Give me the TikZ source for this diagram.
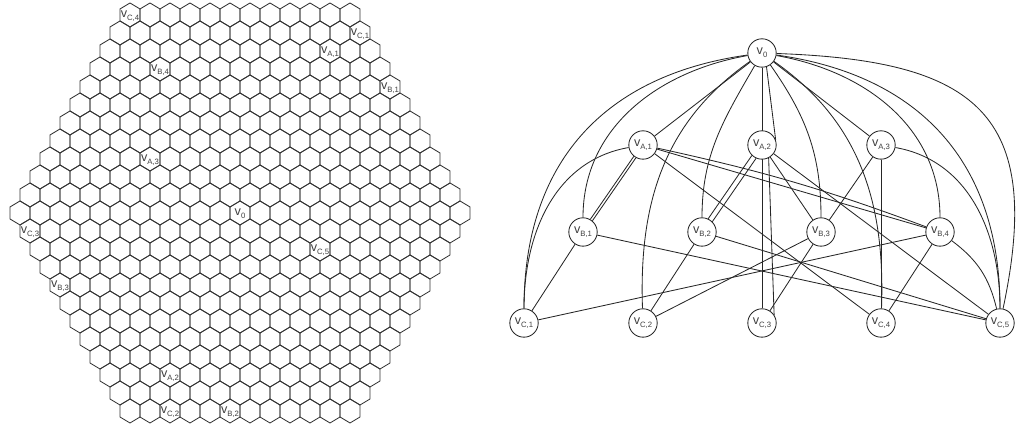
\documentclass[tikz,border=0pt]{standalone}
\usepackage{fontspec}
\setmainfont{Liberation Sans}
\usetikzlibrary{backgrounds}
\tikzset{
	vtx/.style={draw=black!85, circle, fill=white, line width=0.6pt,
		minimum size=7.1mm, inner sep=0pt, text=black!75,
		font=\fontsize{9}{10}\selectfont},
	lnk/.style={draw=black!85, line width=0.6pt},
	hexln/.style={draw=black!80, line width=0.6pt, line join=round},
	hlab/.style={inner sep=0pt, text=black!75, font=\fontsize{9}{10}\selectfont},
}
\newcommand{\vlab}[1]{v\raisebox{-0.5ex}{\fontsize{5.5}{6}\selectfont #1}}

\begin{document}
\begin{tikzpicture}[x=0.25mm, y=0.25mm]
	\useasboundingbox (0,0) rectangle (1022,426);
	% hexagonal cell grid
	\foreach \r in {0,...,22}{
		\pgfmathtruncatemacro{\m}{min(\r,22-\r)}
		\pgfmathtruncatemacro{\n}{11+\m}
		\foreach \k in {0,...,\n}
			\draw[hexln] ({130-10*\m+20*\k},{411-18*\r}) +(0,12) -- +(10,6) -- +(10,-6) -- +(0,-12) -- +(-10,-6) -- +(-10,6) -- cycle;
	}
	\node[hlab] (hC4) at (130,410) {\vlab{C,4}};
	\node[hlab] (hC1) at (360,392) {\vlab{C,1}};
	\node[hlab] (hA1) at (330,374) {\vlab{A,1}};
	\node[hlab] (hB4) at (160,356) {\vlab{B,4}};
	\node[hlab] (hB1) at (390,338) {\vlab{B,1}};
	\node[hlab] (hA3) at (150,266) {\vlab{A,3}};
	\node[hlab] (h0) at (240,212) {\vlab{0}};
	\node[hlab] (hC3) at (30,194) {\vlab{C,3}};
	\node[hlab] (hC5) at (320,176) {\vlab{C,5}};
	\node[hlab] (hB3) at (60,140) {\vlab{B,3}};
	\node[hlab] (hA2) at (170,50) {\vlab{A,2}};
	\node[hlab] (hC2) at (170,14) {\vlab{C,2}};
	\node[hlab] (hB2) at (230,14) {\vlab{B,2}};
	% graph
	\node[vtx] (v0) at (762,373) {\vlab{0}};
	\node[vtx] (vA1) at (643,281) {\vlab{A,1}};
	\node[vtx] (vA2) at (762,281) {\vlab{A,2}};
	\node[vtx] (vA3) at (881,281) {\vlab{A,3}};
	\node[vtx] (vB1) at (583,194) {\vlab{B,1}};
	\node[vtx] (vB2) at (702,194) {\vlab{B,2}};
	\node[vtx] (vB3) at (821,194) {\vlab{B,3}};
	\node[vtx] (vB4) at (940,194) {\vlab{B,4}};
	\node[vtx] (vC1) at (524,103) {\vlab{C,1}};
	\node[vtx] (vC2) at (643,103) {\vlab{C,2}};
	\node[vtx] (vC3) at (762,103) {\vlab{C,3}};
	\node[vtx] (vC4) at (881,103) {\vlab{C,4}};
	\node[vtx] (vC5) at (1000,103) {\vlab{C,5}};
	\begin{scope}[on background layer]
		% arcs from v0
		\draw[lnk] (v0) to[out=188, in=90, looseness=1.1] (vC1);
		\draw[lnk] (v0) to[out=190, in=90] (vB1);
		\draw[lnk] (v0) to[out=215, in=92] (vC2);
		\draw[lnk] (v0) to[out=240, in=90] (vB2);
		\draw[lnk] (v0) to[out=-55, in=90] (vB3);
		\draw[lnk] (v0) to[out=-35, in=88] (vC4);
		\draw[lnk] (v0) to[out=-10, in=90] (vB4);
		\draw[lnk] (v0) to[out=-8, in=90, looseness=1.1] (vC5);
		\draw[lnk] (v0) to[out=-2, in=78, looseness=1.5] (vC5);
		\draw[lnk] (v0) -- (vA1);
		\draw[lnk] (v0) -- (vA3);
		\draw[lnk] (v0) -- (vC3);
		\draw[lnk] (v0) -- (vA2);
		\draw[lnk] (v0.-72) -- (vA2.21);
		% A row
		\draw[lnk] (vA1) to[out=190, in=90] (vC1);
		\draw[lnk] (vA1.-119.6) -- (vB1.50.4);
		\draw[lnk] (vA1.-129.6) -- (vB1.60.4);
		\draw[lnk] (vA1) -- (vB4);
		\draw[lnk] (vA1) to[bend left=4] (vB4);
		\draw[lnk] (vA1) -- (vC4);
		\draw[lnk] (vA2.-114.6) -- (vB2.45.4);
		\draw[lnk] (vA2.-134.6) -- (vB2.65.4);
		\draw[lnk] (vA2) -- (vB3);
		\draw[lnk] (vA2) -- (vC3);
		\draw[lnk] (vA2.-63) -- (vC3.34);
		\draw[lnk] (vA2) -- (vC5);
		\draw[lnk] (vA3) -- (vB3);
		\draw[lnk] (vA3) -- (vC4);
		\draw[lnk] (vA3) to[out=-10, in=90] (vC5);
		% B row
		\draw[lnk] (vB1) -- (vC1);
		\draw[lnk] (vB1) -- (vC5);
		\draw[lnk] (vB2) -- (vC2);
		\draw[lnk] (vB2) -- (vC5);
		\draw[lnk] (vB3) -- (vC2);
		\draw[lnk] (vB3) -- (vC3);
		\draw[lnk] (vB4) -- (vC1);
		\draw[lnk] (vB4) -- (vC4);
		\draw[lnk] (vB4) to[bend left=20] (vC5);
	\end{scope}
\end{tikzpicture}
\end{document}
